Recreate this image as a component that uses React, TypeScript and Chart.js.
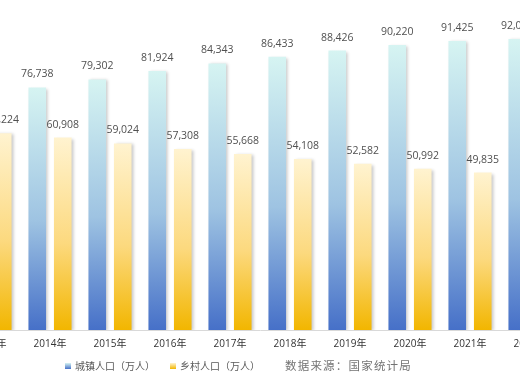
import React, { useEffect, useRef } from "react";
import { Chart, registerables } from "chart.js";

Chart.register(...registerables);

const years = ["2013年", "2014年", "2015年", "2016年", "2017年", "2018年", "2019年", "2020年", "2021年", "2022年"];
const urbanPop = [74502, 76738, 79302, 81924, 84343, 86433, 88426, 90220, 91425, 92071];
const ruralPop = [62224, 60908, 59024, 57308, 55668, 54108, 52582, 50992, 49835, 49104];
const urbanLabel = "城镇人口（万人）";
const ruralLabel = "乡村人口（万人）";
const sourceText = "数据来源：国家统计局";

const blueStops: [number, string][] = [
  [0, "#d6f4f2"],
  [0.55, "#9ec3e2"],
  [1, "#4670c8"],
];
const yellowStops: [number, string][] = [
  [0, "#fff3d0"],
  [0.55, "#fcd97e"],
  [1, "#f2b600"],
];

function gradientFor(stops: [number, string][]) {
  return (context: any) => {
    const chart = context.chart;
    const y = chart.scales && chart.scales.y;
    const v = context.raw;
    if (!y || typeof v !== "number") return stops[stops.length - 1][1];
    const top = y.getPixelForValue(v);
    const bottom = y.getPixelForValue(0);
    if (!isFinite(top) || !isFinite(bottom) || top === bottom) return stops[stops.length - 1][1];
    const g = chart.ctx.createLinearGradient(0, top, 0, bottom);
    stops.forEach(([o, c]) => g.addColorStop(o, c));
    return g;
  };
}

const labelsPlugin = {
  id: "barShadowAndLabels",
  beforeDatasetsDraw(chart: any) {
    const ctx = chart.ctx;
    ctx.save();
    ctx.shadowColor = "rgba(0,0,0,0.22)";
    ctx.shadowBlur = 3;
    ctx.shadowOffsetX = 2;
    ctx.shadowOffsetY = 1;
  },
  afterDatasetsDraw(chart: any) {
    const ctx = chart.ctx;
    ctx.restore();
    ctx.save();
    ctx.font = "10.5px 'Open Sans'";
    ctx.fillStyle = "#505050";
    ctx.textAlign = "center";
    ctx.textBaseline = "middle";
    chart.data.datasets.forEach((ds: any, i: number) => {
      const meta = chart.getDatasetMeta(i);
      meta.data.forEach((el: any, j: number) => {
        const v = ds.data[j];
        ctx.fillText(v.toLocaleString("en-US"), el.x, el.y - 13);
      });
    });
    ctx.restore();
  },
};

export default function App() {
  const ref = useRef<HTMLCanvasElement>(null);
  useEffect(() => {
    if (!ref.current) return;
    const chart = new Chart(ref.current, {
      type: "bar",
      data: {
        labels: years,
        datasets: [
          {
            label: urbanLabel,
            data: urbanPop,
            backgroundColor: gradientFor(blueStops),
            borderWidth: 0,
            categoryPercentage: 0.85,
            barPercentage: 0.69,
          },
          {
            label: ruralLabel,
            data: ruralPop,
            backgroundColor: gradientFor(yellowStops),
            borderWidth: 0,
            categoryPercentage: 0.85,
            barPercentage: 0.69,
          },
        ],
      },
      options: {
        responsive: false,
        animation: false,
        devicePixelRatio: 1,
        layout: { padding: { top: 14, bottom: 32, left: 0, right: 0 } },
        plugins: { legend: { display: false }, tooltip: { enabled: false } },
        scales: {
          x: {
            grid: { display: false, drawTicks: false },
            border: { display: true, color: "#d9d9d9", width: 1 },
            ticks: {
              autoSkip: false,
              maxRotation: 0,
              padding: 8,
              color: "#333333",
              font: { size: 10, family: "'Open Sans', 'Noto Sans CJK SC'" },
            },
          },
          y: { display: false, min: 0, max: 100000 },
        },
      },
      plugins: [labelsPlugin],
    });
    chart.update();
    return () => chart.destroy();
  }, []);

  const legendText: React.CSSProperties = {
    fontFamily: "'Noto Sans CJK SC', sans-serif",
    fontSize: 10,
    color: "#595959",
    position: "absolute",
    top: 359,
    lineHeight: "14px",
    whiteSpace: "nowrap",
  };
  return (
    <div style={{ position: "fixed", left: 0, top: 0, width: 520, height: 390, overflow: "hidden", background: "#fff" }}>
      <canvas ref={ref} width={600} height={390} style={{ position: "absolute", left: -40, top: 0 }} />
      <div style={{ position: "absolute", left: 65, top: 363, width: 6, height: 6, background: "linear-gradient(#d6f4f2, #4670c8)" }} />
      <div style={{ ...legendText, left: 75 }}>{urbanLabel}</div>
      <div style={{ position: "absolute", left: 170, top: 363, width: 6, height: 6, background: "linear-gradient(#fff3d0, #f2b600)" }} />
      <div style={{ ...legendText, left: 180 }}>{ruralLabel}</div>
      <div style={{ ...legendText, left: 285, fontSize: 11.5, letterSpacing: 1.2, color: "#737373", top: 358 }}>{sourceText}</div>
    </div>
  );
}
